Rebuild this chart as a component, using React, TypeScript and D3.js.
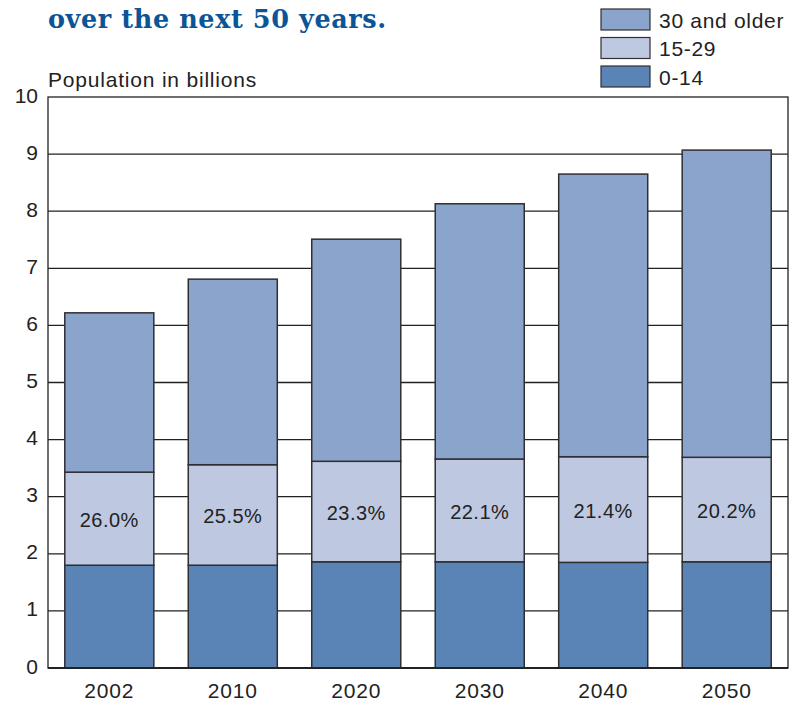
import React from "react";
import * as d3 from "d3";

const years = ["2002", "2010", "2020", "2030", "2040", "2050"];
const age0to14 = [1.8, 1.8, 1.86, 1.86, 1.85, 1.86];
const age15to29 = [1.63, 1.76, 1.76, 1.8, 1.85, 1.83];
const age30plus = [2.79, 3.25, 3.89, 4.47, 4.95, 5.38];
const shareLabels = ["26.0%", "25.5%", "23.3%", "22.1%", "21.4%", "20.2%"];
const yTicks = [0, 1, 2, 3, 4, 5, 6, 7, 8, 9, 10];
const seriesNames = ["0-14", "15-29", "30 and older"];
const seriesColors = ["#5b84b6", "#bec9e1", "#8aa4cb"];
const legendOrder = ["30 and older", "15-29", "0-14"];

const W = 793;
const H = 702;
const M = { left: 48, right: 5, top: 97, bottom: 34 };
const FONT = "'Liberation Sans', Arial, sans-serif";

export default function App() {
  const x = d3
    .scaleBand<string>()
    .domain(years)
    .range([M.left, W - M.right])
    .paddingInner(0.279)
    .paddingOuter(0.136);
  const y = d3.scaleLinear().domain([0, 10]).range([H - M.bottom, M.top]);

  const rows = years.map((yr, i) => ({
    year: yr,
    "0-14": age0to14[i],
    "15-29": age15to29[i],
    "30 and older": age30plus[i],
  }));
  const stacked = d3.stack<any>().keys(seriesNames)(rows);

  return (
    <svg
      width={W}
      height={H}
      style={{ position: "absolute", left: 0, top: 0, background: "#fff" }}
    >
      <text
        x={48}
        y={28}
        fontFamily="'DejaVu Serif', serif"
        fontWeight="bold"
        fontSize={25.5}
        letterSpacing={0.6}
        fill="#0b5597"
      >
        over the next 50 years.
      </text>
      <text x={48} y={87} fontFamily={FONT} fontSize={21} fill="#222" letterSpacing={0.8}>
        Population in billions
      </text>

      {/* gridlines */}
      {yTicks.slice(1, -1).map((t) => (
        <line
          key={t}
          x1={M.left}
          x2={W - M.right}
          y1={y(t)}
          y2={y(t)}
          stroke="#222"
          strokeWidth={1.3}
        />
      ))}
      {/* frame */}
      <rect
        x={M.left}
        y={M.top}
        width={W - M.right - M.left}
        height={y(0) - M.top}
        fill="none"
        stroke="#222"
        strokeWidth={1.3}
      />

      {stacked.map((s, si) =>
        s.map((d, i) => (
          <rect
            key={si + "-" + i}
            x={x(years[i])}
            y={y(d[1])}
            width={x.bandwidth()}
            height={y(d[0]) - y(d[1])}
            fill={seriesColors[si]}
            stroke="#2f2f33"
            strokeWidth={1.5}
          />
        ))
      )}
      <line
        x1={M.left}
        x2={W - M.right}
        y1={y(0)}
        y2={y(0)}
        stroke="#222"
        strokeWidth={2}
      />

      {/* share labels */}
      {stacked[1].map((d, i) => (
        <text
          key={"lab" + i}
          x={(x(years[i]) as number) + x.bandwidth() / 2}
          y={(y(d[0]) + y(d[1])) / 2 + 3}
          textAnchor="middle"
          dominantBaseline="middle"
          fontFamily={FONT}
          fontSize={20}
          letterSpacing={0.5}
          fill="#222"
        >
          {shareLabels[i]}
        </text>
      ))}

      {/* y ticks */}
      {yTicks.map((t) => (
        <text
          key={"yt" + t}
          x={38}
          y={y(t)}
          textAnchor="end"
          dominantBaseline="middle"
          fontFamily={FONT}
          fontSize={21}
          fill="#222"
        >
          {t}
        </text>
      ))}

      {/* x labels */}
      {years.map((yr) => (
        <text
          key={"x" + yr}
          x={(x(yr) as number) + x.bandwidth() / 2}
          y={698}
          textAnchor="middle"
          fontFamily={FONT}
          fontSize={21}
          letterSpacing={0.8}
          fill="#222"
        >
          {yr}
        </text>
      ))}

      {/* legend */}
      {legendOrder.map((name, i) => (
        <g key={name} transform={`translate(601, ${9 + i * 28.5})`}>
          <rect
            width={49}
            height={21}
            fill={seriesColors[seriesNames.indexOf(name)]}
            stroke="#2f2f33"
            strokeWidth={1.2}
          />
          <text
            x={58}
            y={13}
            dominantBaseline="middle"
            fontFamily={FONT}
            fontSize={21}
            letterSpacing={0.7}
            fill="#222"
          >
            {name}
          </text>
        </g>
      ))}
    </svg>
  );
}
